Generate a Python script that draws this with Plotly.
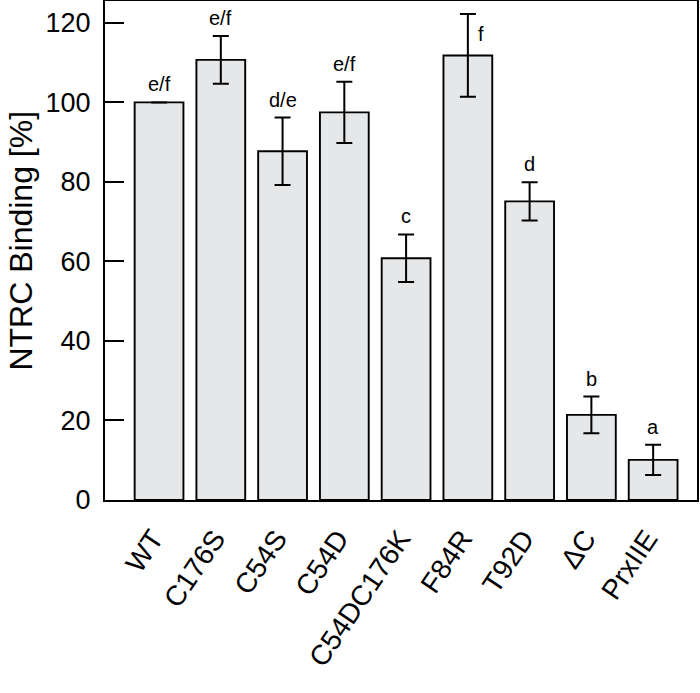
import plotly.graph_objects as go

categories = ["WT", "C176S", "C54S", "C54D", "C54DC176K", "F84R", "T92D", "ΔC", "PrxIIE"]
binding = [100.0, 110.7, 87.7, 97.5, 60.8, 111.8, 75.1, 21.4, 10.1]
errors = [0.0, 6.0, 8.5, 7.7, 6.0, 10.4, 4.8, 4.6, 3.8]
letters = ["e/f", "e/f", "d/e", "e/f", "c", "f", "d", "b", "a"]
y_ticks = [0, 20, 40, 60, 80, 100, 120]

FONT = "Liberation Sans, Arial, Helvetica, sans-serif"

fig = go.Figure()
fig.add_trace(go.Bar(
    x=categories,
    y=binding,
    width=0.79,
    marker=dict(color="#e6e7e9", line=dict(color="black", width=1.9)),
    error_y=dict(type="data", array=errors, visible=True, color="black",
                 thickness=2, width=8),
    showlegend=False,
    hoverinfo="skip",
))

for i, (c, v, e, t) in enumerate(zip(categories, binding, errors, letters)):
    if c == "F84R":
        fig.add_annotation(x=c, y=v + e, text=t, showarrow=False,
                           xanchor="center", yanchor="middle",
                           xshift=13, yshift=-20,
                           font=dict(family=FONT, size=20, color="black"))
    else:
        fig.add_annotation(x=c, y=v + e, text=t, showarrow=False,
                           xanchor="center", yanchor="bottom", yshift=5,
                           font=dict(family=FONT, size=20, color="black"))

fig.add_annotation(text="NTRC Binding [%]", textangle=-90, showarrow=False,
                   xref="paper", yref="paper", x=-0.1435, y=0.52,
                   xanchor="center", yanchor="middle", borderpad=0,
                   font=dict(family=FONT, size=32, color="black"))

fig.update_layout(
    width=700, height=693,
    margin=dict(l=105, r=3, t=1, b=193, autoexpand=False),
    paper_bgcolor="white", plot_bgcolor="white",
    font=dict(family=FONT, color="black"),
    bargap=0.2,
)
fig.update_xaxes(
    type="category",
    range=[-0.875, 8.71],
    automargin=False,
    showline=True, linecolor="black", linewidth=2, mirror=True,
    ticks="", tickangle=-56,
    ticklabelstandoff=9, ticklabelshift=-6,
    tickfont=dict(family=FONT, size=28, color="black"),
    showgrid=False, zeroline=False,
)
fig.update_yaxes(
    range=[0, 125.5],
    automargin=False,
    tickvals=y_ticks,
    showline=True, linecolor="black", linewidth=2, mirror=True,
    ticks="inside", ticklen=19, tickwidth=2, tickcolor="black",
    ticklabelstandoff=7,
    tickfont=dict(family=FONT, size=27, color="black"),
    showgrid=False, zeroline=False,
)

fig.write_html(
    "out.html",
    config={"displayModeBar": False},
    post_script="document.body.style.margin='0';document.body.style.padding='0';",
)
